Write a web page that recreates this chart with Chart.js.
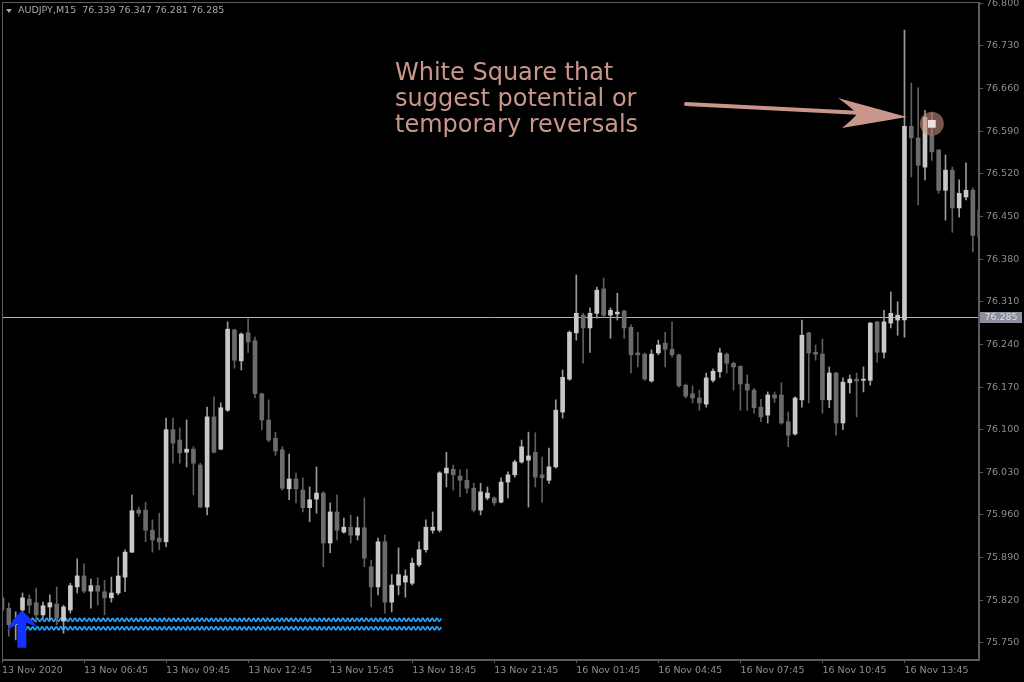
<!DOCTYPE html>
<html>
<head>
<meta charset="utf-8">
<script src="https://cdn.jsdelivr.net/npm/chart.js@4.4.0/dist/chart.umd.min.js"></script>
<style>
  html, body { margin: 0; padding: 0; background: #000; }
  #wrap { width: 1024px; height: 682px; }
</style>
</head>
<body>
<div id="wrap"><canvas id="chart" width="1024" height="682"></canvas></div>
<script>
// AUDJPY M15, one entry per bar, oldest first (13 Nov 2020 03:45 ...)
const opens = [
  75.824, 75.807, 75.780, 75.804, 75.822, 75.816, 75.796, 75.809, 75.814, 75.786,
  75.804, 75.842, 75.860, 75.835, 75.844, 75.834, 75.824, 75.832, 75.858, 75.899,
  75.968, 75.968, 75.935, 75.922, 75.916, 76.100, 76.083, 76.063, 76.068, 76.042,
  75.973, 76.121, 76.068, 76.132, 76.264, 76.213, 76.259, 76.246, 76.159, 76.116,
  76.086, 76.067, 76.003, 76.019, 76.001, 75.972, 75.986, 75.996, 75.914, 75.965,
  75.932, 75.940, 75.927, 75.939, 75.875, 75.842, 75.916, 75.817, 75.845, 75.850,
  75.848, 75.878, 75.903, 75.935, 75.935, 76.029, 76.035, 76.024, 76.017, 76.004,
  75.968, 75.988, 75.988, 75.981, 76.014, 76.026, 76.047, 76.050, 76.063, 76.026,
  76.017, 76.039, 76.129, 76.183, 76.259, 76.288, 76.267, 76.291, 76.331, 76.288,
  76.290, 76.295, 76.268, 76.226, 76.224, 76.180, 76.226, 76.242, 76.232, 76.223,
  76.173, 76.159, 76.152, 76.142, 76.181, 76.195, 76.224, 76.209, 76.204, 76.175,
  76.165, 76.137, 76.124, 76.157, 76.157, 76.113, 76.093, 76.149, 76.259, 76.227,
  76.224, 76.149, 76.193, 76.111, 76.177, 76.183, 76.181, 76.181, 76.277, 76.227,
  76.275, 76.280, 76.280, 76.598, 76.579, 76.531, 76.583, 76.559, 76.493, 76.526,
  76.464, 76.482, 76.493, 76.460
];
const highs = [
  75.829, 75.816, 75.801, 75.832, 75.829, 75.840, 75.817, 75.829, 75.842, 75.812,
  75.848, 75.888, 75.880, 75.855, 75.857, 75.853, 75.858, 75.891, 75.903, 75.993,
  75.973, 75.981, 75.952, 75.963, 76.119, 76.119, 76.103, 76.116, 76.072, 76.045,
  76.137, 76.154, 76.144, 76.277, 76.265, 76.259, 76.282, 76.252, 76.160, 76.149,
  76.096, 76.072, 76.060, 76.029, 76.021, 76.006, 76.039, 75.998, 75.980, 75.993,
  75.955, 75.960, 75.957, 75.988, 75.886, 75.922, 75.927, 75.862, 75.906, 75.870,
  75.889, 75.916, 75.952, 75.965, 76.031, 76.063, 76.042, 76.034, 76.035, 76.012,
  76.012, 76.006, 75.990, 76.021, 76.031, 76.050, 76.083, 76.096, 76.095, 76.055,
  76.070, 76.149, 76.198, 76.262, 76.354, 76.291, 76.300, 76.334, 76.349, 76.300,
  76.324, 76.296, 76.272, 76.260, 76.226, 76.231, 76.247, 76.260, 76.277, 76.224,
  76.175, 76.172, 76.165, 76.193, 76.200, 76.234, 76.226, 76.211, 76.205, 76.190,
  76.168, 76.150, 76.162, 76.162, 76.177, 76.129, 76.154, 76.280, 76.260, 76.239,
  76.249, 76.203, 76.194, 76.185, 76.190, 76.193, 76.203, 76.276, 76.278, 76.296,
  76.326, 76.310, 76.756, 76.669, 76.661, 76.624, 76.620, 76.560, 76.551, 76.531,
  76.510, 76.538, 76.497, 76.469
];
const lows = [
  75.788, 75.761, 75.755, 75.796, 75.799, 75.784, 75.791, 75.788, 75.780, 75.766,
  75.799, 75.832, 75.832, 75.807, 75.812, 75.796, 75.817, 75.829, 75.834, 75.898,
  75.958, 75.916, 75.899, 75.903, 75.908, 76.045, 76.045, 76.039, 75.993, 75.972,
  75.960, 76.062, 76.067, 76.130, 76.201, 76.198, 76.227, 76.152, 76.100, 76.080,
  76.058, 76.001, 75.985, 75.980, 75.965, 75.949, 75.963, 75.875, 75.898, 75.919,
  75.930, 75.914, 75.919, 75.875, 75.809, 75.829, 75.799, 75.801, 75.829, 75.825,
  75.845, 75.875, 75.899, 75.930, 75.932, 76.006, 76.001, 75.990, 75.996, 75.965,
  75.960, 75.985, 75.976, 75.980, 75.988, 76.022, 76.045, 75.973, 76.006, 75.981,
  76.012, 76.037, 76.119, 76.181, 76.247, 76.209, 76.227, 76.283, 76.285, 76.250,
  76.280, 76.250, 76.193, 76.203, 76.181, 76.178, 76.223, 76.203, 76.219, 76.170,
  76.152, 76.144, 76.132, 76.137, 76.178, 76.186, 76.193, 76.165, 76.132, 76.132,
  76.127, 76.113, 76.111, 76.145, 76.109, 76.072, 76.091, 76.137, 76.144, 76.214,
  76.127, 76.136, 76.091, 76.100, 76.160, 76.121, 76.162, 76.173, 76.211, 76.218,
  76.267, 76.255, 76.252, 76.515, 76.469, 76.510, 76.542, 76.488, 76.444, 76.424,
  76.449, 76.477, 76.392, 76.411
];
const closes = [
  75.804, 75.780, 75.788, 75.824, 75.812, 75.796, 75.811, 75.816, 75.791, 75.809,
  75.844, 75.860, 75.835, 75.844, 75.835, 75.824, 75.832, 75.860, 75.899, 75.967,
  75.963, 75.935, 75.919, 75.916, 76.100, 76.078, 76.062, 76.068, 76.045, 75.973,
  76.121, 76.063, 76.136, 76.265, 76.214, 76.257, 76.244, 76.159, 76.116, 76.083,
  76.065, 76.004, 76.019, 76.003, 75.972, 75.985, 75.996, 75.914, 75.965, 75.935,
  75.940, 75.927, 75.939, 75.889, 75.842, 75.916, 75.817, 75.845, 75.862, 75.860,
  75.881, 75.903, 75.940, 75.940, 76.029, 76.037, 76.026, 76.017, 76.004, 75.968,
  75.998, 75.996, 75.980, 76.014, 76.026, 76.047, 76.072, 76.057, 76.022, 76.021,
  76.039, 76.132, 76.186, 76.260, 76.291, 76.267, 76.291, 76.329, 76.288, 76.296,
  76.293, 76.267, 76.223, 76.223, 76.183, 76.224, 76.239, 76.232, 76.223, 76.172,
  76.155, 76.152, 76.144, 76.185, 76.196, 76.226, 76.209, 76.203, 76.175, 76.165,
  76.136, 76.121, 76.157, 76.152, 76.111, 76.091, 76.152, 76.255, 76.226, 76.224,
  76.149, 76.193, 76.111, 76.178, 76.183, 76.180, 76.183, 76.275, 76.227, 76.277,
  76.291, 76.288, 76.598, 76.579, 76.534, 76.613, 76.556, 76.493, 76.526, 76.464,
  76.488, 76.493, 76.419, 76.416
];

// x axis labels and the bar they sit on
const timeLabels = ['13 Nov 2020', '13 Nov 06:45', '13 Nov 09:45', '13 Nov 12:45', '13 Nov 15:45', '13 Nov 18:45',
                    '13 Nov 21:45', '16 Nov 01:45', '16 Nov 04:45', '16 Nov 07:45', '16 Nov 10:45', '16 Nov 13:45'];
const timeTickBars = [0, 12, 24, 36, 48, 60, 72, 84, 96, 108, 120, 132];

// price scale labels
const priceTicks = [75.750, 75.820, 75.890, 75.960, 76.030, 76.100, 76.170, 76.240,
                    76.310, 76.380, 76.450, 76.520, 76.590, 76.660, 76.730, 76.800];

// header + bid line
const symbolName = 'AUDJPY,M15';
const lastBar = [76.339, 76.347, 76.281, 76.285];
const bidPrice = 76.285;

// indicator marks
const squareBars = [136];
const squarePrices = [76.602];
const signalBars = [2.9];
const signalPrices = [75.803];
const waveLevels = [75.788, 75.774];
const waveFrom = 2.6;
const waveTo = 64.3;

// callout
const noteLines = ['White Square that', 'suggest potential or', 'temporary reversals'];

const bull = i => closes[i] >= opens[i];
const bars = opens.map((o, i) => i);

const axisGray = '#5c5c5c';
const labelGray = '#8e8e8e';
const noteColor = '#c9968b';
const tickFont = { family: 'DejaVu Sans', size: 9.5 };

// plain drawing on top of the chart: frame, header, bid line, indicator, callout
const decorations = {
  id: 'decorations',
  beforeDraw(chart) {
    const ctx = chart.ctx;
    ctx.save();
    ctx.fillStyle = '#000';
    ctx.fillRect(0, 0, chart.width, chart.height);
    ctx.restore();
  },
  beforeDatasetsDraw(chart) {
    const { ctx, chartArea: a, scales: { x, y } } = chart;
    ctx.save();
    // bid line
    const by = Math.round(y.getPixelForValue(bidPrice)) + 0.5;
    ctx.strokeStyle = '#b4b4b4';
    ctx.lineWidth = 1;
    ctx.beginPath();
    ctx.moveTo(a.left, by);
    ctx.lineTo(a.right, by);
    ctx.stroke();

    // wavy indicator lines
    ctx.strokeStyle = '#2a9df4';
    ctx.lineWidth = 1.7;
    const x0 = x.getPixelForValue(waveFrom), x1 = x.getPixelForValue(waveTo);
    waveLevels.forEach(lv => {
      const yy = y.getPixelForValue(lv);
      ctx.beginPath();
      for (let px = x0; px <= x1; px += 0.5) {
        const dy = 1.5 * Math.sin((px - x0) * 2 * Math.PI / 4.7);
        if (px === x0) ctx.moveTo(px, yy + dy); else ctx.lineTo(px, yy + dy);
      }
      ctx.stroke();
    });
    ctx.restore();
  },
  afterDatasetsDraw(chart) {
    const { ctx, chartArea: a, scales: { x, y } } = chart;
    ctx.save();

    // blue buy arrow
    ctx.fillStyle = '#1432ff';
    signalBars.forEach((b, k) => {
      const ax = x.getPixelForValue(b), ay = y.getPixelForValue(signalPrices[k]);
      ctx.beginPath();
      ctx.moveTo(ax, ay);
      ctx.quadraticCurveTo(ax + 9, ay + 7, ax + 15, ay + 16);
      ctx.lineTo(ax + 4.5, ay + 12);
      ctx.lineTo(ax + 4.5, ay + 37);
      ctx.lineTo(ax - 4.5, ay + 37);
      ctx.lineTo(ax - 4.5, ay + 13);
      ctx.lineTo(ax - 15, ay + 20);
      ctx.quadraticCurveTo(ax - 9, ay + 8, ax, ay);
      ctx.closePath();
      ctx.fill();
    });

    // frame
    ctx.strokeStyle = axisGray;
    ctx.lineWidth = 1;
    ctx.strokeRect(a.left + 0.5, a.top + 0.5, a.right - a.left - 1, a.bottom - a.top - 1);

    // header
    ctx.fillStyle = '#a8a8a8';
    ctx.beginPath();
    ctx.moveTo(6, 9); ctx.lineTo(12, 9); ctx.lineTo(9, 13); ctx.closePath();
    ctx.fill();
    ctx.font = '9.5px "DejaVu Sans"';
    ctx.textBaseline = 'middle';
    ctx.textAlign = 'left';
    ctx.fillText(symbolName + '  ' + lastBar.map(v => v.toFixed(3)).join(' '), 18, 11);

    // callout text
    ctx.fillStyle = noteColor;
    ctx.font = '24px "DejaVu Sans"';
    ctx.textBaseline = 'alphabetic';
    noteLines.forEach((t, k) => ctx.fillText(t, 395, 80 + k * 26));

    // callout arrow
    ctx.strokeStyle = noteColor;
    ctx.lineWidth = 4;
    ctx.lineCap = 'round';
    ctx.beginPath();
    ctx.moveTo(686, 104);
    ctx.lineTo(862, 113);
    ctx.stroke();
    ctx.beginPath();
    ctx.moveTo(907, 117);
    ctx.lineTo(838, 98);
    ctx.quadraticCurveTo(852, 108, 857, 114);
    ctx.quadraticCurveTo(852, 120, 842, 128);
    ctx.closePath();
    ctx.fill();

    // bid price label on the axis
    const by = Math.round(y.getPixelForValue(bidPrice));
    ctx.fillStyle = '#8c909e';
    ctx.fillRect(a.right + 1, by - 5, 42, 11);
    ctx.fillStyle = '#dcdde2';
    ctx.font = '9.5px "DejaVu Sans"';
    ctx.textAlign = 'center';
    ctx.textBaseline = 'middle';
    ctx.fillText(bidPrice.toFixed(3), a.right + 22, by + 0.5);
    ctx.restore();
  }
};

const config = {
  type: 'bar',
  data: {
    datasets: [
      {
        label: 'wicks',
        data: bars.map(i => ({ x: i, y: [lows[i], highs[i]] })),
        backgroundColor: c => bull(c.dataIndex) ? '#9a9a9a' : '#5e5e5e',
        barThickness: 1,
        grouped: false,
        order: 3
      },
      {
        label: 'bodies',
        data: bars.map(i => ({ x: i, y: [opens[i], closes[i]] })),
        backgroundColor: c => bull(c.dataIndex) ? '#c8c8c8' : '#6b6b6b',
        barThickness: 4,
        minBarLength: 1,
        grouped: false,
        order: 2
      },
      {
        type: 'line',
        label: 'halo',
        data: squareBars.map((b, k) => ({ x: b, y: squarePrices[k] })),
        showLine: false,
        pointStyle: 'circle',
        pointRadius: 12,
        pointBackgroundColor: 'rgba(200,140,128,0.6)',
        pointBorderWidth: 0,
        order: 1
      },
      {
        type: 'line',
        label: 'white square',
        data: squareBars.map((b, k) => ({ x: b, y: squarePrices[k] })),
        showLine: false,
        pointStyle: 'rect',
        pointRadius: 5.5,
        pointBackgroundColor: '#f3e0da',
        pointBorderWidth: 0,
        order: 0
      }
    ]
  },
  options: {
    responsive: false,
    animation: false,
    layout: { autoPadding: false, padding: { left: 2, top: 2, right: 0, bottom: 0 } },
    plugins: {
      legend: { display: false },
      tooltip: { enabled: false },
      title: { display: false }
    },
    scales: {
      x: {
        type: 'linear',
        min: 0,
        max: 142.9,
        offset: false,
        afterBuildTicks: s => { s.ticks = timeTickBars.map(v => ({ value: v })); },
        afterFit: s => { s.height = 22; s.paddingLeft = 0; s.paddingRight = 0; },
        ticks: {
          callback: (v, i) => timeLabels[i],
          align: 'start',
          autoSkip: false,
          maxRotation: 0,
          color: labelGray,
          font: tickFont,
          padding: 2
        },
        grid: { drawOnChartArea: false, tickLength: 3, color: axisGray, offset: false },
        border: { color: axisGray }
      },
      y: {
        position: 'right',
        min: 75.722,
        max: 76.802,
        afterBuildTicks: s => { s.ticks = priceTicks.map(v => ({ value: v })); },
        afterFit: s => { s.width = 45; s.paddingTop = 0; s.paddingBottom = 0; },
        ticks: {
          callback: v => v.toFixed(3),
          color: labelGray,
          font: tickFont,
          padding: 3
        },
        grid: { drawOnChartArea: false, tickLength: 4, color: axisGray },
        border: { color: axisGray }
      }
    }
  },
  plugins: [decorations]
};

new Chart(document.getElementById('chart').getContext('2d'), config);
</script>
</body>
</html>
